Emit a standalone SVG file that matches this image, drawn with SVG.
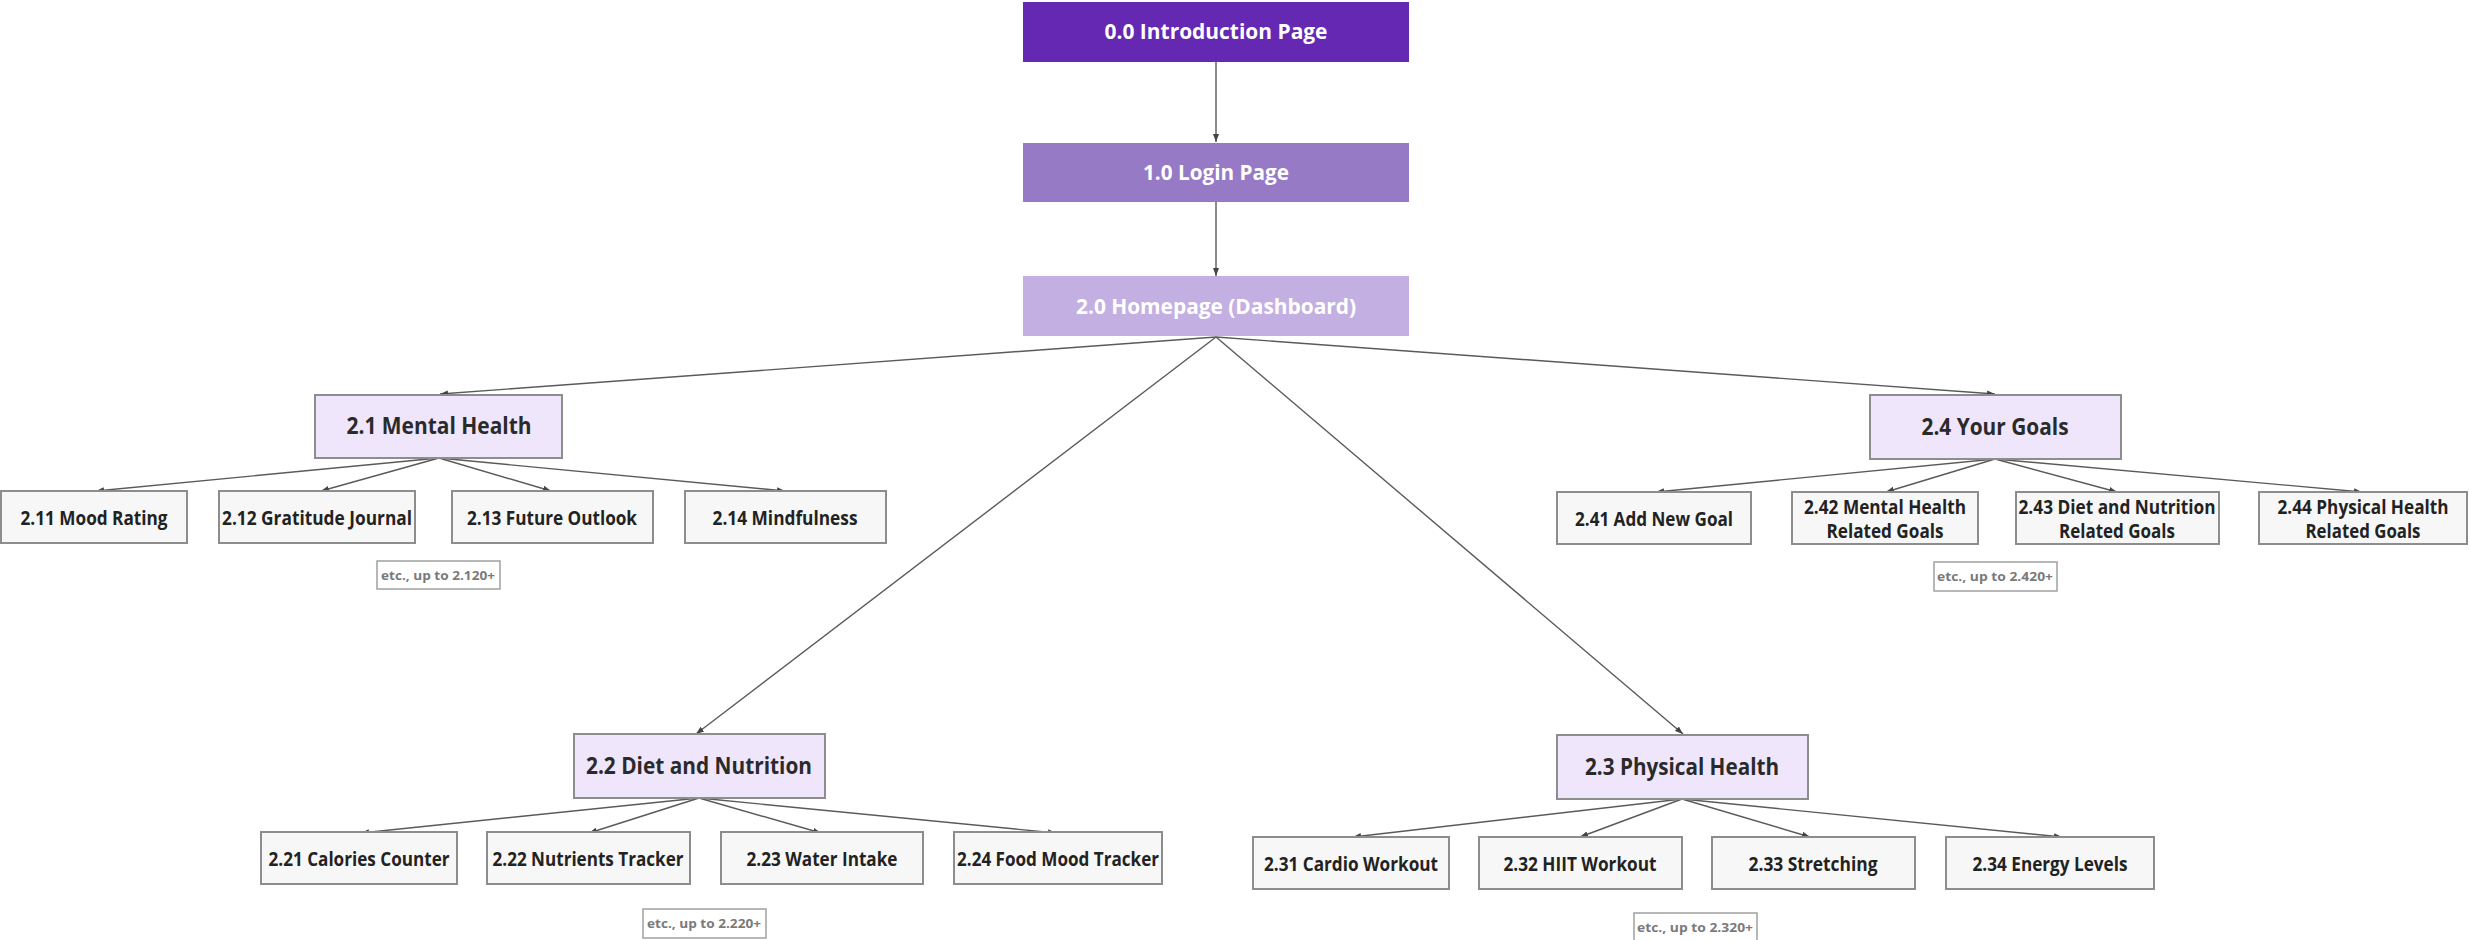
<svg xmlns="http://www.w3.org/2000/svg" width="2469" height="940" viewBox="0 0 2469 940">
<defs>
<marker id="ah" markerUnits="userSpaceOnUse" markerWidth="8" markerHeight="8" viewBox="0 0 8 8" refX="8" refY="4" orient="auto">
<path d="M0,1 L8,4 L0,7 z" fill="#444"/>
</marker>
</defs>
<style>
text{font-family:"Open Sans","Liberation Sans",sans-serif;font-weight:bold;text-anchor:middle}
.top{fill:#fff;font-size:21px}
.l2{fill:#efe6fc;stroke:#8d8d8d;stroke-width:2}
.l2t{fill:#2a2a2a;font-size:23px}
.c{fill:#f7f7f7;stroke:#8d8d8d;stroke-width:2}
.ct{fill:#222;font-size:19.5px}
.e{fill:#fff;stroke:#a0a0a0;stroke-width:1.5}
.et{fill:#7a7a7a;font-size:12.5px}
.conn line{stroke:#5a5a5a;stroke-width:1.4;fill:none;marker-end:url(#ah)}
</style>
<rect width="2469" height="940" fill="#fff"/>
<g class="conn" id="connectors">
<line x1="1216" y1="62" x2="1216" y2="142"/>
<line x1="1216" y1="202" x2="1216" y2="276"/>
<line x1="1216" y1="337" x2="440" y2="394"/>
<line x1="1216" y1="337" x2="1995" y2="394"/>
<line x1="1216" y1="337" x2="696" y2="734"/>
<line x1="1216" y1="337" x2="1683" y2="734"/>
<line x1="439" y1="458" x2="96" y2="491"/>
<line x1="439" y1="458" x2="321" y2="491"/>
<line x1="439" y1="458" x2="551" y2="491"/>
<line x1="439" y1="458" x2="785" y2="491"/>
<line x1="1995" y1="459" x2="1656" y2="492"/>
<line x1="1995" y1="459" x2="1886" y2="492"/>
<line x1="1995" y1="459" x2="2117" y2="492"/>
<line x1="1995" y1="459" x2="2362" y2="492"/>
<line x1="699" y1="798" x2="361" y2="833"/>
<line x1="699" y1="798" x2="589" y2="833"/>
<line x1="699" y1="798" x2="821" y2="833"/>
<line x1="699" y1="798" x2="1056" y2="833"/>
<line x1="1682" y1="799" x2="1353" y2="837"/>
<line x1="1682" y1="799" x2="1580" y2="837"/>
<line x1="1682" y1="799" x2="1810" y2="837"/>
<line x1="1682" y1="799" x2="2062" y2="837"/>
</g>
<g id="n00"><rect x="1023" y="2" width="386" height="60" fill="#6428b3"/><text class="top" x="1216" y="39" textLength="223" lengthAdjust="spacingAndGlyphs">0.0 Introduction Page</text></g>
<g id="n10"><rect x="1023" y="143" width="386" height="59" fill="#977ac5"/><text class="top" x="1216" y="180" textLength="146" lengthAdjust="spacingAndGlyphs">1.0 Login Page</text></g>
<g id="n20"><rect x="1023" y="276" width="386" height="60" fill="#c3afe2"/><text class="top" x="1216" y="314" textLength="280" lengthAdjust="spacingAndGlyphs">2.0 Homepage (Dashboard)</text></g>

<g id="n21"><rect class="l2" x="315" y="395" width="247" height="63"/><text class="l2t" x="439" y="434" textLength="185" lengthAdjust="spacingAndGlyphs">2.1 Mental Health</text></g>
<g id="n24"><rect class="l2" x="1870" y="395" width="251" height="64"/><text class="l2t" x="1995" y="435" textLength="147" lengthAdjust="spacingAndGlyphs">2.4 Your Goals</text></g>
<g id="n22"><rect class="l2" x="574" y="734" width="251" height="64"/><text class="l2t" x="699" y="774" textLength="226" lengthAdjust="spacingAndGlyphs">2.2 Diet and Nutrition</text></g>
<g id="n23"><rect class="l2" x="1557" y="735" width="251" height="64"/><text class="l2t" x="1682" y="775" textLength="194" lengthAdjust="spacingAndGlyphs">2.3 Physical Health</text></g>

<g id="n211"><rect class="c" x="1" y="491" width="186" height="52"/><text class="ct" x="94" y="525" textLength="147" lengthAdjust="spacingAndGlyphs">2.11 Mood Rating</text></g>
<g id="n212"><rect class="c" x="219" y="491" width="196" height="52"/><text class="ct" x="317" y="525" textLength="190" lengthAdjust="spacingAndGlyphs">2.12 Gratitude Journal</text></g>
<g id="n213"><rect class="c" x="452" y="491" width="201" height="52"/><text class="ct" x="552" y="525" textLength="170" lengthAdjust="spacingAndGlyphs">2.13 Future Outlook</text></g>
<g id="n214"><rect class="c" x="685" y="491" width="201" height="52"/><text class="ct" x="785" y="525" textLength="145" lengthAdjust="spacingAndGlyphs">2.14 Mindfulness</text></g>
<g id="e21"><rect class="e" x="377" y="561" width="123" height="28"/><text class="et" x="438" y="580" textLength="114" lengthAdjust="spacingAndGlyphs">etc., up to 2.120+</text></g>

<g id="n241"><rect class="c" x="1557" y="492" width="194" height="52"/><text class="ct" x="1654" y="526" textLength="158" lengthAdjust="spacingAndGlyphs">2.41 Add New Goal</text></g>
<g id="n242"><rect class="c" x="1792" y="492" width="186" height="52"/><text class="ct" x="1885" y="514" textLength="162" lengthAdjust="spacingAndGlyphs">2.42 Mental Health</text><text class="ct" x="1885" y="538" textLength="117" lengthAdjust="spacingAndGlyphs">Related Goals</text></g>
<g id="n243"><rect class="c" x="2016" y="492" width="203" height="52"/><text class="ct" x="2117" y="514" textLength="197" lengthAdjust="spacingAndGlyphs">2.43 Diet and Nutrition</text><text class="ct" x="2117" y="538" textLength="116" lengthAdjust="spacingAndGlyphs">Related Goals</text></g>
<g id="n244"><rect class="c" x="2259" y="492" width="208" height="52"/><text class="ct" x="2363" y="514" textLength="171" lengthAdjust="spacingAndGlyphs">2.44 Physical Health</text><text class="ct" x="2363" y="538" textLength="115" lengthAdjust="spacingAndGlyphs">Related Goals</text></g>
<g id="e24"><rect class="e" x="1934" y="562" width="123" height="29"/><text class="et" x="1995" y="581" textLength="116" lengthAdjust="spacingAndGlyphs">etc., up to 2.420+</text></g>

<g id="n221"><rect class="c" x="261" y="832" width="196" height="52"/><text class="ct" x="359" y="866" textLength="181" lengthAdjust="spacingAndGlyphs">2.21 Calories Counter</text></g>
<g id="n222"><rect class="c" x="487" y="832" width="203" height="52"/><text class="ct" x="588" y="866" textLength="191" lengthAdjust="spacingAndGlyphs">2.22 Nutrients Tracker</text></g>
<g id="n223"><rect class="c" x="721" y="832" width="202" height="52"/><text class="ct" x="822" y="866" textLength="151" lengthAdjust="spacingAndGlyphs">2.23 Water Intake</text></g>
<g id="n224"><rect class="c" x="954" y="832" width="208" height="52"/><text class="ct" x="1058" y="866" textLength="202" lengthAdjust="spacingAndGlyphs">2.24 Food Mood Tracker</text></g>
<g id="e22"><rect class="e" x="643" y="909" width="123" height="29"/><text class="et" x="704" y="928" textLength="114" lengthAdjust="spacingAndGlyphs">etc., up to 2.220+</text></g>

<g id="n231"><rect class="c" x="1253" y="837" width="196" height="52"/><text class="ct" x="1351" y="871" textLength="174" lengthAdjust="spacingAndGlyphs">2.31 Cardio Workout</text></g>
<g id="n232"><rect class="c" x="1479" y="837" width="203" height="52"/><text class="ct" x="1580" y="871" textLength="153" lengthAdjust="spacingAndGlyphs">2.32 HIIT Workout</text></g>
<g id="n233"><rect class="c" x="1712" y="837" width="203" height="52"/><text class="ct" x="1813" y="871" textLength="129" lengthAdjust="spacingAndGlyphs">2.33 Stretching</text></g>
<g id="n234"><rect class="c" x="1946" y="837" width="208" height="52"/><text class="ct" x="2050" y="871" textLength="155" lengthAdjust="spacingAndGlyphs">2.34 Energy Levels</text></g>
<g id="e23"><rect class="e" x="1634" y="913" width="123" height="29"/><text class="et" x="1695" y="932" textLength="116" lengthAdjust="spacingAndGlyphs">etc., up to 2.320+</text></g>
</svg>
